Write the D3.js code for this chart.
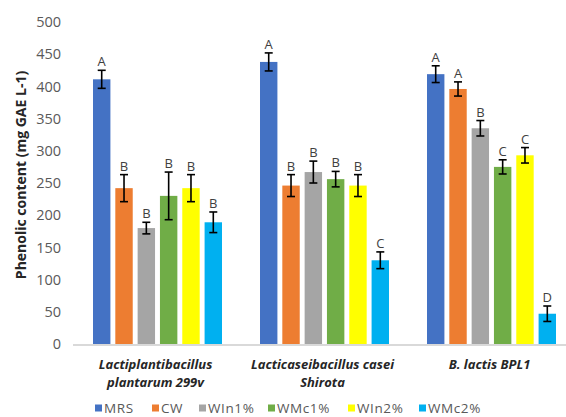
<!DOCTYPE html>
<html>
<head>
<meta charset="utf-8">
<script src="https://cdn.jsdelivr.net/npm/d3@7"></script>
<style>
  html, body { margin: 0; padding: 0; background: #fff; }
  svg { display: block; }
</style>
</head>
<body>
<svg id="chart" width="566" height="417"></svg>
<script>
// Strains (x-axis groups), each label split into lines
const categories = ["L299v", "Shirota", "BPL1"];
const categoryLines = [
  ["Lactiplantibacillus", "plantarum 299v"],
  ["Lacticaseibacillus casei", "Shirota"],
  ["B. lactis BPL1"]
];
const series = ["MRS", "CW", "WIn1%", "WMc1%", "WIn2%", "WMc2%"];
const colors = ["#4472C4", "#ED7D31", "#A5A5A5", "#70AD47", "#FFFF00", "#00B0F0"];

// Mean phenolic content per strain, one array per medium (same order as categories)
const MRS    = [411, 438, 419];
const CW     = [242, 246, 396];
const WIn1   = [180, 267, 335];
const WMc1   = [230, 256, 275];
const WIn2   = [242, 246, 293];
const WMc2   = [189, 130, 47];

// Standard deviations
const MRS_sd  = [14, 14, 13];
const CW_sd   = [21, 17, 11];
const WIn1_sd = [9, 17, 12];
const WMc1_sd = [37, 12, 11];
const WIn2_sd = [21, 17, 12];
const WMc2_sd = [16, 13, 12];

// Significance letters
const MRS_sig  = ["A", "A", "A"];
const CW_sig   = ["B", "B", "A"];
const WIn1_sig = ["B", "B", "B"];
const WMc1_sig = ["B", "B", "C"];
const WIn2_sig = ["B", "B", "C"];
const WMc2_sig = ["B", "C", "D"];

const yTicks = [0, 50, 100, 150, 200, 250, 300, 350, 400, 450, 500];

const values = [MRS, CW, WIn1, WMc1, WIn2, WMc2];
const sds = [MRS_sd, CW_sd, WIn1_sd, WMc1_sd, WIn2_sd, WMc2_sd];
const sigs = [MRS_sig, CW_sig, WIn1_sig, WMc1_sig, WIn2_sig, WMc2_sig];

const rows = [];
categories.forEach((c, ci) => {
  series.forEach((s, si) => {
    rows.push({ cat: c, ser: s, si, v: values[si][ci], sd: sds[si][ci], sig: sigs[si][ci] });
  });
});

const svg = d3.select("#chart");
const font = "'Open Sans', 'Noto Sans', sans-serif";

const x0 = d3.scaleBand().domain(categories).range([74, 575]).padding(0);
const x1 = d3.scaleBand().domain(series).range([19, 148]).paddingInner(0.22).paddingOuter(0);
const y = d3.scaleLinear().domain([0, 500]).range([344, 22]);

// Y axis labels only (no axis line, no ticks)
const yAxis = svg.append("g")
  .attr("transform", "translate(61,0)")
  .call(d3.axisLeft(y).tickValues(yTicks).tickSize(0).tickPadding(0));
yAxis.select(".domain").remove();
yAxis.selectAll("text")
  .attr("font-family", font)
  .attr("font-size", 14.5)
  .attr("fill", "#595959");

// Y axis title
svg.append("text")
  .attr("transform", "translate(26,175) rotate(-90)")
  .attr("text-anchor", "middle")
  .attr("font-family", font)
  .attr("font-weight", "bold")
  .attr("font-size", 14)
  .attr("fill", "#262626")
  .text("Phenolic content (mg GAE L-1)");

// Bars
const groups = svg.append("g").selectAll("g")
  .data(categories)
  .join("g")
  .attr("transform", d => `translate(${x0(d)},0)`);

groups.selectAll("rect")
  .data(c => rows.filter(r => r.cat === c))
  .join("rect")
  .attr("x", d => x1(d.ser))
  .attr("y", d => y(d.v))
  .attr("width", x1.bandwidth())
  .attr("height", d => y(0) - y(d.v))
  .attr("fill", d => colors[d.si]);

// Error bars
const capW = 4;
const eb = groups.selectAll("g.err")
  .data(c => rows.filter(r => r.cat === c))
  .join("g")
  .attr("class", "err")
  .attr("transform", d => `translate(${x1(d.ser) + x1.bandwidth() / 2},0)`)
  .attr("stroke", "#000")
  .attr("stroke-width", 1.6);
eb.append("line").attr("x1", 0).attr("x2", 0)
  .attr("y1", d => y(d.v + d.sd)).attr("y2", d => y(d.v - d.sd));
eb.append("line").attr("x1", -capW).attr("x2", capW)
  .attr("y1", d => y(d.v + d.sd)).attr("y2", d => y(d.v + d.sd));
eb.append("line").attr("x1", -capW).attr("x2", capW)
  .attr("y1", d => y(d.v - d.sd)).attr("y2", d => y(d.v - d.sd));

// Significance letters
groups.selectAll("text.sig")
  .data(c => rows.filter(r => r.cat === c))
  .join("text")
  .attr("class", "sig")
  .attr("x", d => x1(d.ser) + x1.bandwidth() / 2)
  .attr("y", d => y(d.v + d.sd) - 4)
  .attr("text-anchor", "middle")
  .attr("font-family", font)
  .attr("font-size", 13)
  .attr("fill", "#404040")
  .text(d => d.sig);

// Baseline
svg.append("line")
  .attr("x1", 73).attr("x2", 566)
  .attr("y1", y(0) + 1).attr("y2", y(0) + 1)
  .attr("stroke", "#d9d9d9")
  .attr("stroke-width", 2);

// Category labels
categories.forEach((c, i) => {
  const t = svg.append("text")
    .attr("text-anchor", "middle")
    .attr("font-family", font)
    .attr("font-weight", "bold")
    .attr("font-style", "italic")
    .attr("font-size", 13)
    .attr("fill", "#262626");
  categoryLines[i].forEach((line, li) => {
    t.append("tspan")
      .attr("x", x0(c) + x0.bandwidth() / 2 - 2)
      .attr("y", 369 + li * 18)
      .text(line);
  });
});

// Legend
const legendX = [95, 152, 199, 268, 348, 419];
const legend = svg.append("g").selectAll("g")
  .data(series)
  .join("g")
  .attr("transform", (d, i) => `translate(${legendX[i]},408)`);
legend.append("rect")
  .attr("x", 0).attr("y", -3.5)
  .attr("width", 7).attr("height", 7)
  .attr("fill", (d, i) => colors[i]);
legend.append("text")
  .attr("x", 9).attr("y", 0)
  .attr("dy", "0.35em")
  .attr("font-family", font)
  .attr("font-size", 13.5)
  .attr("letter-spacing", 0.6)
  .attr("fill", "#595959")
  .text(d => d);
</script>
</body>
</html>
